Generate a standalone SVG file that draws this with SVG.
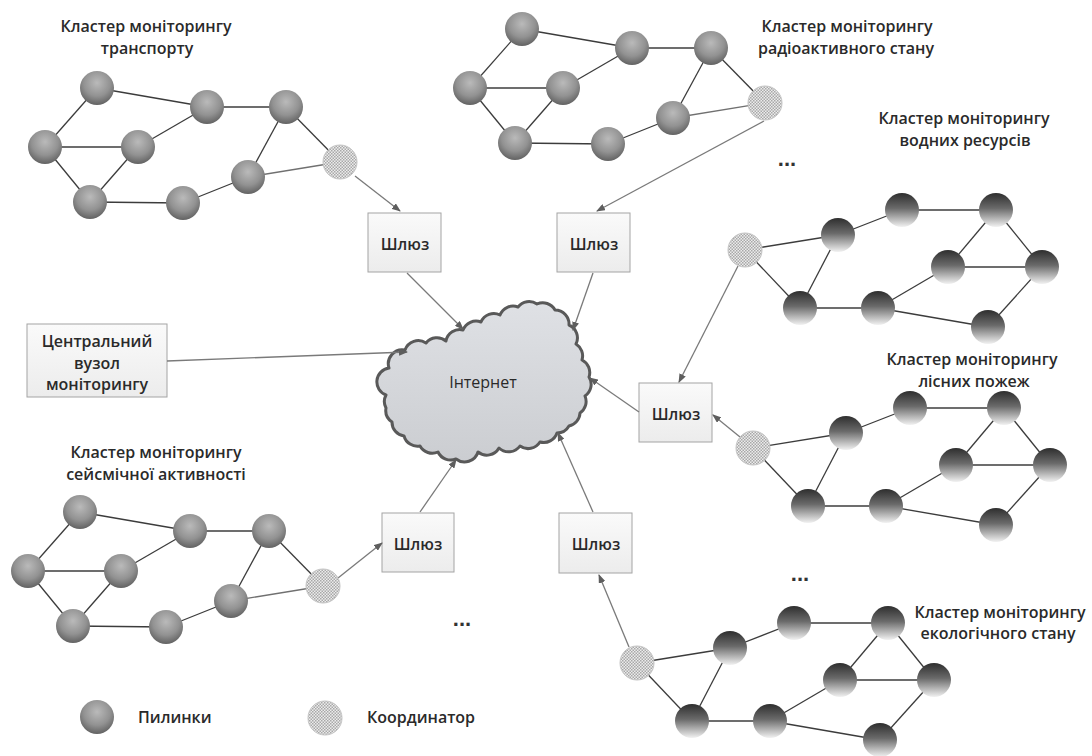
<svg xmlns="http://www.w3.org/2000/svg" xmlns:xlink="http://www.w3.org/1999/xlink" width="1092" height="756" viewBox="0 0 1092 756">
  <style>
    .lbl { font-family: "Open Sans", "Liberation Sans", sans-serif; font-size: 16px; font-weight: 600; fill: #2a2a2a; text-anchor: middle; }
    .legend { font-family: "Open Sans", "Liberation Sans", sans-serif; font-size: 16px; font-weight: 600; fill: #2a2a2a; }
    .dots { font-family: "Liberation Sans", sans-serif; font-size: 22px; font-weight: bold; fill: #333; text-anchor: middle; }
    .edge { stroke: #3c3c3c; stroke-width: 1.3; fill: none; }
    .nodeA { fill: url(#sphereA); }
    .nodeB { fill: url(#sphereB); }
    .coord { fill: url(#hatch); stroke: #c4c4c4; stroke-width: 1; }
    .box { fill: url(#boxFill); stroke: #a4a4a4; stroke-width: 1; }
    .link { stroke: #7a7a7a; stroke-width: 1.3; fill: none; marker-end: url(#arrow); }
  </style>
  <defs>
    <radialGradient id="sphereA" cx="50%" cy="35%" r="65%">
      <stop offset="0" stop-color="#bababa"/>
      <stop offset="0.6" stop-color="#929292"/>
      <stop offset="1" stop-color="#626262"/>
    </radialGradient>
    <linearGradient id="sphereB" x1="0" y1="0" x2="0" y2="1">
      <stop offset="0" stop-color="#2e2e2e"/>
      <stop offset="0.45" stop-color="#6a6a6a"/>
      <stop offset="1" stop-color="#f2f2f2"/>
    </linearGradient>
    <pattern id="hatch" width="3" height="3" patternUnits="userSpaceOnUse">
      <rect width="3" height="3" fill="#ececec"/>
      <rect width="1.5" height="1.5" fill="#a8a8a8"/>
      <rect x="1.5" y="1.5" width="1.5" height="1.5" fill="#a8a8a8"/>
    </pattern>
    <linearGradient id="boxFill" x1="0" y1="0" x2="0" y2="1">
      <stop offset="0" stop-color="#fafafa"/>
      <stop offset="1" stop-color="#ececec"/>
    </linearGradient>
    <linearGradient id="cloudFill" x1="0" y1="0" x2="0" y2="1">
      <stop offset="0" stop-color="#dfe1e5"/>
      <stop offset="1" stop-color="#cbcdd1"/>
    </linearGradient>
    <marker id="arrow" markerWidth="9" markerHeight="7" refX="8" refY="3.5" orient="auto" markerUnits="userSpaceOnUse">
      <path d="M0,0 L9,3.5 L0,7 z" fill="#5e5e5e"/>
    </marker>
  </defs>

  <rect width="1092" height="756" fill="#ffffff"/>

  <!-- Internet cloud -->
  <g id="internet">
    <path d="M386,395 A14,14 0 0 1 389,368 A14,14 0 0 1 405,350 A14,14 0 0 1 426,343 A14,14 0 0 1 446,341 A14,14 0 0 1 463,330 A14,14 0 0 1 481,322 A14,14 0 0 1 500,315 A14,14 0 0 1 518,307 A14,14 0 0 1 537,304 A14,14 0 0 1 555,310 A14,14 0 0 1 569,325 A14,14 0 0 1 576,344 A14,14 0 0 1 582,360 A14,14 0 0 1 589,377 A14,14 0 0 1 585,396 A14,14 0 0 1 580,413 A14,14 0 0 1 569,426 A14,14 0 0 1 557,433 A14,14 0 0 1 540,442 A14,14 0 0 1 520,446 A14,14 0 0 1 499,448 A14,14 0 0 1 478,452 A14,14 0 0 1 456,459 A14,14 0 0 1 438,452 A14,14 0 0 1 420,446 A14,14 0 0 1 404,436 A14,14 0 0 1 392,422 A14,14 0 0 1 386,408 A14,14 0 0 1 386,395 Z" fill="url(#cloudFill)" stroke="#595959" stroke-width="3" stroke-linejoin="round"/>
    <text class="lbl" x="483" y="388" style="font-weight:500">Інтернет</text>
  </g>

  <!-- Gateways and the central node -->
  <g id="gw-transport">
    <rect class="box" x="368" y="213" width="73" height="59"/>
    <text class="lbl" x="405" y="250">Шлюз</text>
  </g>
  <g id="gw-radiation">
    <rect class="box" x="557" y="213" width="73" height="59"/>
    <text class="lbl" x="594" y="250">Шлюз</text>
  </g>
  <g id="gw-forest">
    <rect class="box" x="639" y="383" width="73" height="59"/>
    <text class="lbl" x="676" y="420">Шлюз</text>
  </g>
  <g id="gw-seismic">
    <rect class="box" x="382" y="513" width="72" height="59"/>
    <text class="lbl" x="418" y="550">Шлюз</text>
  </g>
  <g id="gw-ecology">
    <rect class="box" x="559" y="513" width="73" height="60"/>
    <text class="lbl" x="596" y="550">Шлюз</text>
  </g>
  <g id="central-node">
    <rect class="box" x="27" y="324" width="140" height="73"/>
    <text class="lbl" x="97" y="347">Центральний</text>
    <text class="lbl" x="97" y="369">вузол</text>
    <text class="lbl" x="97" y="390">моніторингу</text>
  </g>

  <!-- Links between clusters, gateways and the Internet -->
  <g id="connectors">
    <path class="link" d="M355,176 L400,211"/>
    <path class="link" d="M764,121 L597,211"/>
    <path class="link" d="M407,273 L463,329"/>
    <path class="link" d="M593,273 L573,330"/>
    <path class="link" d="M167,361 L407,352"/>
    <path class="link" d="M639,412 L590,378"/>
    <path class="link" d="M738,266 L679,382"/>
    <path class="link" d="M740,437 L713,415"/>
    <path class="link" d="M420,512 L456,460"/>
    <path class="link" d="M338,578 L382,543"/>
    <path class="link" d="M593,512 L558,433"/>
    <path class="link" d="M629,647 L599,575"/>
  </g>

  <!-- Cluster: transport (coordinator at 340,162) -->
  <g id="cluster-transport" transform="translate(340,162)">
    <g class="edge">
      <line x1="-295" y1="-15" x2="-243" y2="-74"/>
      <line x1="-243" y1="-74" x2="-133" y2="-55"/>
      <line x1="-133" y1="-55" x2="-54" y2="-55"/>
      <line x1="-54" y1="-55" x2="0" y2="0"/>
      <line x1="-295" y1="-15" x2="-202" y2="-15"/>
      <line x1="-202" y1="-15" x2="-133" y2="-55"/>
      <line x1="-295" y1="-15" x2="-250" y2="40"/>
      <line x1="-250" y1="40" x2="-202" y2="-15"/>
      <line x1="-250" y1="40" x2="-157" y2="41"/>
      <line x1="-157" y1="41" x2="-92" y2="15"/>
      <line x1="-92" y1="15" x2="-54" y2="-55"/>
      <line x1="-92" y1="15" x2="0" y2="0" stroke="#707070"/>
    </g>
    <circle class="nodeA" cx="-243" cy="-74" r="17"/>
    <circle class="nodeA" cx="-133" cy="-55" r="17"/>
    <circle class="nodeA" cx="-54" cy="-55" r="17"/>
    <circle class="nodeA" cx="-295" cy="-15" r="17"/>
    <circle class="nodeA" cx="-202" cy="-15" r="17"/>
    <circle class="nodeA" cx="-92" cy="15" r="17"/>
    <circle class="nodeA" cx="-250" cy="40" r="17"/>
    <circle class="nodeA" cx="-157" cy="41" r="17"/>
    <circle class="coord" cx="0" cy="0" r="17"/>
  </g>
  <g id="label-transport">
    <text class="lbl" x="146" y="32">Кластер моніторингу</text>
    <text class="lbl" x="147" y="54">транспорту</text>
  </g>

  <!-- Cluster: radiation (coordinator at 765,103) -->
  <g id="cluster-radiation" transform="translate(765,103)">
    <g class="edge">
      <line x1="-295" y1="-15" x2="-243" y2="-74"/>
      <line x1="-243" y1="-74" x2="-133" y2="-55"/>
      <line x1="-133" y1="-55" x2="-54" y2="-55"/>
      <line x1="-54" y1="-55" x2="0" y2="0"/>
      <line x1="-295" y1="-15" x2="-202" y2="-15"/>
      <line x1="-202" y1="-15" x2="-133" y2="-55"/>
      <line x1="-295" y1="-15" x2="-250" y2="40"/>
      <line x1="-250" y1="40" x2="-202" y2="-15"/>
      <line x1="-250" y1="40" x2="-157" y2="41"/>
      <line x1="-157" y1="41" x2="-92" y2="15"/>
      <line x1="-92" y1="15" x2="-54" y2="-55"/>
      <line x1="-92" y1="15" x2="0" y2="0" stroke="#707070"/>
    </g>
    <circle class="nodeA" cx="-243" cy="-74" r="17"/>
    <circle class="nodeA" cx="-133" cy="-55" r="17"/>
    <circle class="nodeA" cx="-54" cy="-55" r="17"/>
    <circle class="nodeA" cx="-295" cy="-15" r="17"/>
    <circle class="nodeA" cx="-202" cy="-15" r="17"/>
    <circle class="nodeA" cx="-92" cy="15" r="17"/>
    <circle class="nodeA" cx="-250" cy="40" r="17"/>
    <circle class="nodeA" cx="-157" cy="41" r="17"/>
    <circle class="coord" cx="0" cy="0" r="17"/>
  </g>
  <g id="label-radiation">
    <text class="lbl" x="847" y="32">Кластер моніторингу</text>
    <text class="lbl" x="846" y="54">радіоактивного стану</text>
  </g>

  <!-- Cluster: seismic activity (coordinator at 323,586) -->
  <g id="cluster-seismic" transform="translate(323,586)">
    <g class="edge">
      <line x1="-295" y1="-15" x2="-243" y2="-74"/>
      <line x1="-243" y1="-74" x2="-133" y2="-55"/>
      <line x1="-133" y1="-55" x2="-54" y2="-55"/>
      <line x1="-54" y1="-55" x2="0" y2="0"/>
      <line x1="-295" y1="-15" x2="-202" y2="-15"/>
      <line x1="-202" y1="-15" x2="-133" y2="-55"/>
      <line x1="-295" y1="-15" x2="-250" y2="40"/>
      <line x1="-250" y1="40" x2="-202" y2="-15"/>
      <line x1="-250" y1="40" x2="-157" y2="41"/>
      <line x1="-157" y1="41" x2="-92" y2="15"/>
      <line x1="-92" y1="15" x2="-54" y2="-55"/>
      <line x1="-92" y1="15" x2="0" y2="0" stroke="#707070"/>
    </g>
    <circle class="nodeA" cx="-243" cy="-74" r="17"/>
    <circle class="nodeA" cx="-133" cy="-55" r="17"/>
    <circle class="nodeA" cx="-54" cy="-55" r="17"/>
    <circle class="nodeA" cx="-295" cy="-15" r="17"/>
    <circle class="nodeA" cx="-202" cy="-15" r="17"/>
    <circle class="nodeA" cx="-92" cy="15" r="17"/>
    <circle class="nodeA" cx="-250" cy="40" r="17"/>
    <circle class="nodeA" cx="-157" cy="41" r="17"/>
    <circle class="coord" cx="0" cy="0" r="17"/>
  </g>
  <g id="label-seismic">
    <text class="lbl" x="156" y="458">Кластер моніторингу</text>
    <text class="lbl" x="156" y="480">сейсмічної активності</text>
  </g>

  <!-- Cluster: water resources (coordinator at 745,250) -->
  <g id="cluster-water" transform="translate(745,250)">
    <g class="edge">
      <line x1="0" y1="0" x2="93" y2="-15"/>
      <line x1="93" y1="-15" x2="157" y2="-40"/>
      <line x1="157" y1="-40" x2="251" y2="-40"/>
      <line x1="251" y1="-40" x2="297" y2="17"/>
      <line x1="0" y1="0" x2="55" y2="58"/>
      <line x1="55" y1="58" x2="93" y2="-15"/>
      <line x1="55" y1="58" x2="133" y2="58"/>
      <line x1="133" y1="58" x2="203" y2="17"/>
      <line x1="203" y1="17" x2="251" y2="-40"/>
      <line x1="203" y1="17" x2="297" y2="17"/>
      <line x1="133" y1="58" x2="243" y2="77"/>
      <line x1="243" y1="77" x2="297" y2="17"/>
    </g>
    <circle class="nodeB" cx="93" cy="-15" r="17"/>
    <circle class="nodeB" cx="157" cy="-40" r="17"/>
    <circle class="nodeB" cx="251" cy="-40" r="17"/>
    <circle class="nodeB" cx="203" cy="17" r="17"/>
    <circle class="nodeB" cx="297" cy="17" r="17"/>
    <circle class="nodeB" cx="55" cy="58" r="17"/>
    <circle class="nodeB" cx="133" cy="58" r="17"/>
    <circle class="nodeB" cx="243" cy="77" r="17"/>
    <circle class="coord" cx="0" cy="0" r="17"/>
  </g>
  <g id="label-water">
    <text class="lbl" x="964" y="124">Кластер моніторингу</text>
    <text class="lbl" x="965" y="146">водних ресурсів</text>
  </g>

  <!-- Cluster: forest fires (coordinator at 753,448) -->
  <g id="cluster-forest" transform="translate(753,448)">
    <g class="edge">
      <line x1="0" y1="0" x2="93" y2="-15"/>
      <line x1="93" y1="-15" x2="157" y2="-40"/>
      <line x1="157" y1="-40" x2="251" y2="-40"/>
      <line x1="251" y1="-40" x2="297" y2="17"/>
      <line x1="0" y1="0" x2="55" y2="58"/>
      <line x1="55" y1="58" x2="93" y2="-15"/>
      <line x1="55" y1="58" x2="133" y2="58"/>
      <line x1="133" y1="58" x2="203" y2="17"/>
      <line x1="203" y1="17" x2="251" y2="-40"/>
      <line x1="203" y1="17" x2="297" y2="17"/>
      <line x1="133" y1="58" x2="243" y2="77"/>
      <line x1="243" y1="77" x2="297" y2="17"/>
    </g>
    <circle class="nodeB" cx="93" cy="-15" r="17"/>
    <circle class="nodeB" cx="157" cy="-40" r="17"/>
    <circle class="nodeB" cx="251" cy="-40" r="17"/>
    <circle class="nodeB" cx="203" cy="17" r="17"/>
    <circle class="nodeB" cx="297" cy="17" r="17"/>
    <circle class="nodeB" cx="55" cy="58" r="17"/>
    <circle class="nodeB" cx="133" cy="58" r="17"/>
    <circle class="nodeB" cx="243" cy="77" r="17"/>
    <circle class="coord" cx="0" cy="0" r="17"/>
  </g>
  <g id="label-forest">
    <text class="lbl" x="972" y="365">Кластер моніторингу</text>
    <text class="lbl" x="974" y="387">лісних пожеж</text>
  </g>

  <!-- Cluster: ecological state (coordinator at 637,663) -->
  <g id="cluster-ecology" transform="translate(637,663)">
    <g class="edge">
      <line x1="0" y1="0" x2="93" y2="-15"/>
      <line x1="93" y1="-15" x2="157" y2="-40"/>
      <line x1="157" y1="-40" x2="251" y2="-40"/>
      <line x1="251" y1="-40" x2="297" y2="17"/>
      <line x1="0" y1="0" x2="55" y2="58"/>
      <line x1="55" y1="58" x2="93" y2="-15"/>
      <line x1="55" y1="58" x2="133" y2="58"/>
      <line x1="133" y1="58" x2="203" y2="17"/>
      <line x1="203" y1="17" x2="251" y2="-40"/>
      <line x1="203" y1="17" x2="297" y2="17"/>
      <line x1="133" y1="58" x2="243" y2="77"/>
      <line x1="243" y1="77" x2="297" y2="17"/>
    </g>
    <circle class="nodeB" cx="93" cy="-15" r="17"/>
    <circle class="nodeB" cx="157" cy="-40" r="17"/>
    <circle class="nodeB" cx="251" cy="-40" r="17"/>
    <circle class="nodeB" cx="203" cy="17" r="17"/>
    <circle class="nodeB" cx="297" cy="17" r="17"/>
    <circle class="nodeB" cx="55" cy="58" r="17"/>
    <circle class="nodeB" cx="133" cy="58" r="17"/>
    <circle class="nodeB" cx="243" cy="77" r="17"/>
    <circle class="coord" cx="0" cy="0" r="17"/>
  </g>
  <g id="label-ecology">
    <text class="lbl" x="1000" y="618">Кластер моніторингу</text>
    <text class="lbl" x="998" y="639">екологічного стану</text>
  </g>

  <!-- Ellipses marking further clusters -->
  <g id="more">
    <text class="dots" x="787" y="166">...</text>
    <text class="dots" x="800" y="581">...</text>
    <text class="dots" x="462" y="626">...</text>
  </g>

  <!-- Legend -->
  <g id="legend">
    <circle class="nodeA" cx="97" cy="717" r="17"/>
    <text class="legend" x="138" y="723">Пилинки</text>
    <circle class="coord" cx="325" cy="718" r="17"/>
    <text class="legend" x="367" y="723">Координатор</text>
  </g>
</svg>
